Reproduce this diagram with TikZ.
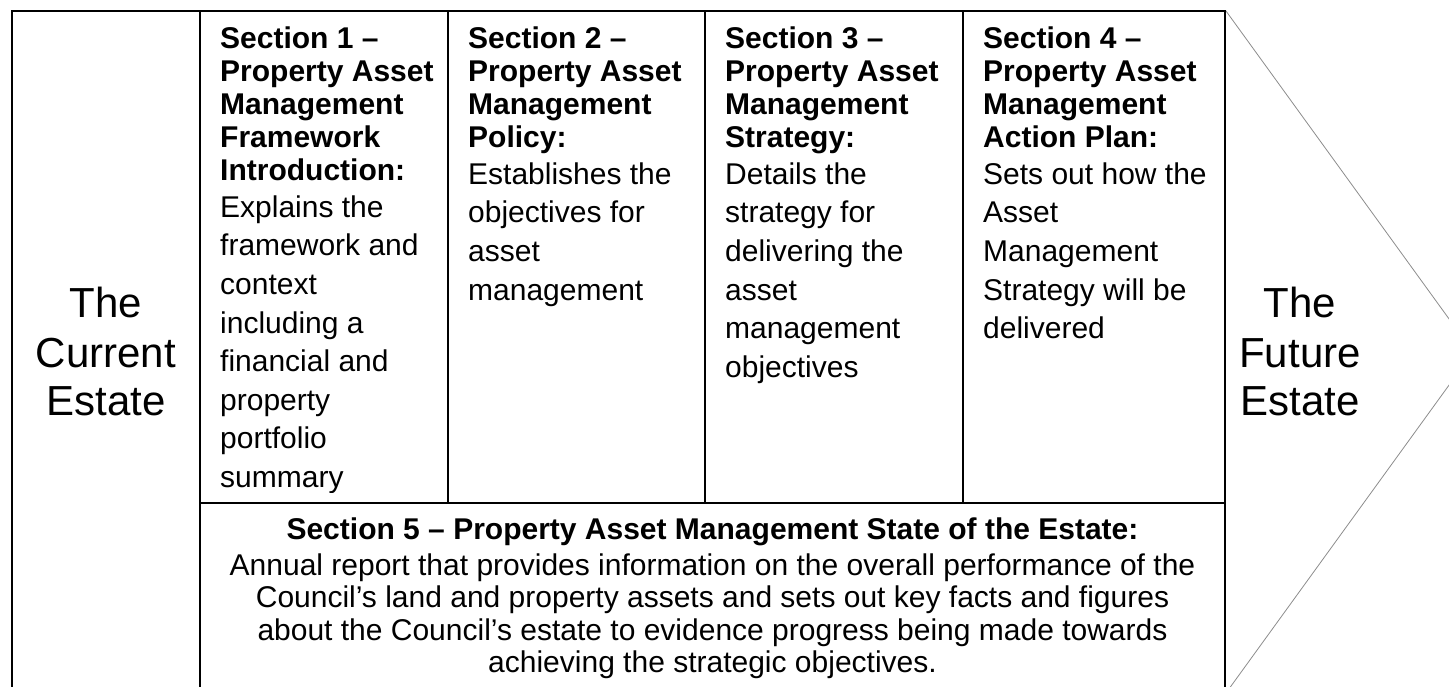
\documentclass[tikz,border=0pt]{standalone}
\usepackage{fontspec}
\setmainfont{Liberation Sans}
\begin{document}
\begin{tikzpicture}[x=1pt,y=-1pt,
  frame/.style={line width=1.4pt,draw=black},
  chev/.style={line width=0.8pt,draw=black!45},
  bl/.style={font=\fontsize{30}{33}\selectfont\bfseries,anchor=base west,inner sep=0pt},
  rl/.style={font=\fontsize{30}{33}\selectfont,anchor=base west,inner sep=0pt},
  s5/.style={font=\fontsize{30}{33}\selectfont,anchor=base,inner sep=0pt},
  s5b/.style={font=\fontsize{30}{33}\selectfont\bfseries,anchor=base,inner sep=0pt},
  big/.style={font=\fontsize{42}{49}\selectfont,anchor=base,inner sep=0pt}]
\useasboundingbox (0,0) rectangle (1449,687);
\begin{scope}
\clip (0,0) rectangle (1449,687);
\draw[chev] (12,11) -- (1226,11) -- (1473,352) -- (1226,693) -- (12,693) -- cycle;
\draw[frame] (12,693) -- (12,11) -- (1225,11) -- (1225,693) -- cycle;
\draw[frame] (200,11) -- (200,693);
\draw[frame] (448,11) -- (448,503);
\draw[frame] (705,11) -- (705,503);
\draw[frame] (963,11) -- (963,503);
\draw[frame] (200,503) -- (1225,503);
\end{scope}
% left and right labels
\node[big] (cur1) at (106,317) {The};
\node[big] (cur2) at (106,367) {Current};
\node[big] (cur3) at (106,415) {Estate};
\node[big] (fut1) at (1300,317) {The};
\node[big] (fut2) at (1300,367) {Future};
\node[big] (fut3) at (1300,415) {Estate};
% column 1 (text clipped at the cell's bottom, as in the reference)
\begin{scope}
\clip (201,12) rectangle (447,492);
\foreach \t [count=\i from 0] in {Section 1 –,Property Asset,Management,Framework,Introduction:}
  \node[bl] (a\i) at (220,{49+33*\i}) {\t};
\foreach \t [count=\i from 0] in {Explains the,framework and,context,including a,financial and,property,portfolio,summary}
  \node[rl] (ar\i) at (220,{217.5+38.5*\i}) {\t};
\end{scope}
% column 2
\foreach \t [count=\i from 0] in {Section 2 –,Property Asset,Management,Policy:}
  \node[bl] (b\i) at (468,{49+33*\i}) {\t};
\foreach \t [count=\i from 0] in {Establishes the,objectives for,asset,management}
  \node[rl] (br\i) at (468,{184.5+38.5*\i}) {\t};
% column 3
\foreach \t [count=\i from 0] in {Section 3 –,Property Asset,Management,Strategy:}
  \node[bl] (c\i) at (725,{49+33*\i}) {\t};
\foreach \t [count=\i from 0] in {Details the,strategy for,delivering the,asset,management,objectives}
  \node[rl] (cr\i) at (725,{184.5+38.5*\i}) {\t};
% column 4
\foreach \t [count=\i from 0] in {Section 4 –,Property Asset,Management,Action Plan:}
  \node[bl] (d\i) at (983,{49+33*\i}) {\t};
\foreach \t [count=\i from 0] in {Sets out how the,Asset,Management,Strategy will be,delivered}
  \node[rl] (dr\i) at (983,{184.5+38.5*\i}) {\t};
% section 5
\node[s5b] (e0) at (712.5,539) {Section 5 – Property Asset Management State of the Estate:};
\node[s5] (e1) at (712.5,575) {Annual report that provides information on the overall performance of the};
\node[s5] (e2) at (712.5,607.5) {Council’s land and property assets and sets out key facts and figures};
\node[s5] (e3) at (712.5,640) {about the Council’s estate to evidence progress being made towards};
\node[s5] (e4) at (712.5,672.5) {achieving the strategic objectives.};
\end{tikzpicture}
\end{document}
